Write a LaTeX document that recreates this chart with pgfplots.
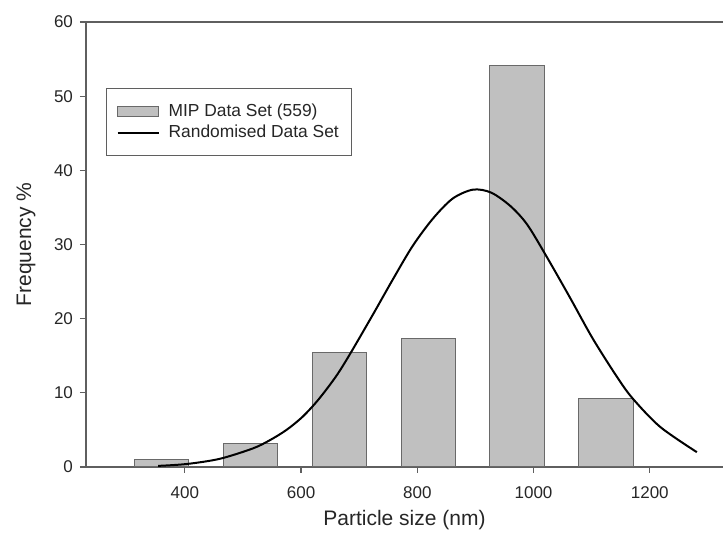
\documentclass[border=0pt]{standalone}
\usepackage{pgfplots}
\pgfplotsset{compat=1.18}
\usepackage{fontspec}
\setmainfont{Liberation Sans}
\definecolor{barfill}{RGB}{192,192,192}
\definecolor{baredge}{RGB}{105,105,105}
\definecolor{axisgray}{RGB}{95,95,95}
\pgfplotsset{
  barlegend/.style={legend image code/.code={\draw[##1] (0pt,-2.5pt) rectangle (20.5pt,2.5pt);}},
  linelegend/.style={legend image code/.code={\draw[##1] (0pt,0pt) -- (20.5pt,0pt);}},
}
\begin{document}
\begin{tikzpicture}[x=1pt,y=1pt]
\useasboundingbox (-43,-39) rectangle (318.5,233.5);
\begin{axis}[
  at={(0,0)}, anchor=south west,
  scale only axis, width=318.5pt, height=222.5pt,
  xmin=230, xmax=1326, ymin=0, ymax=60,
  axis lines*=left,
  axis line style={draw=axisgray, line width=0.6pt, -},
  tick align=outside, major tick length=3pt,
  tick style={axisgray, line width=0.6pt},
  xtick={400,600,...,1200}, ytick={0,10,...,60},
  /pgf/number format/assume math mode=true,
  /pgf/number format/set thousands separator={},
  ticklabel style={font=\fontsize{8.5}{10}\selectfont, text=black!85},
  xticklabel style={yshift=-3.5pt},
  xlabel={Particle size (nm)}, ylabel={Frequency \%},
  label style={font=\fontsize{10.5}{12}\selectfont, text=black!85},
  xlabel style={at={(axis description cs:0.5,0)}, anchor=center, yshift=-26.5pt},
  ylabel style={at={(axis description cs:0,0.5)}, anchor=center, yshift=30pt},
  legend style={at={(0.0314,0.8517)}, anchor=north west, draw=axisgray, line width=0.6pt,
    font=\fontsize{8.7}{10}\selectfont, text=black!85, inner xsep=5pt, inner ysep=6pt,
    row sep=0pt, column sep=3pt, nodes={inner sep=1.5pt}},
  legend cell align=left,
  clip=false,
]
\addplot[ybar, bar width=94, fill=barfill, draw=baredge, line width=0.5pt, barlegend]
  coordinates {(360,0.95) (513,3.2) (666,15.4) (819,17.3) (972,54.1) (1125,9.2)};
\addlegendentry{MIP Data Set (559)}
\addplot[black, line width=1pt, smooth, linelegend]
  coordinates {
  (354,0.15) (403,0.4) (460,1.1) (517,2.5) (546,3.6) (575,5.0) (603,6.8)
  (630,9.1) (660,12.2) (684,15.2) (724,20.6) (758,25.3) (792,29.8) (827,33.5)
  (861,36.2) (896,37.4) (927,37.0) (960,35.2) (989,32.7) (1023,28.3)
  (1063,22.8) (1102,17.3) (1144,12.1) (1171,9.2) (1218,5.4) (1281,2.0)};
\addlegendentry{Randomised Data Set}
\draw[axisgray, line width=0.6pt] (rel axis cs:0,1) -- (rel axis cs:1,1);
\end{axis}
\end{tikzpicture}
\end{document}
